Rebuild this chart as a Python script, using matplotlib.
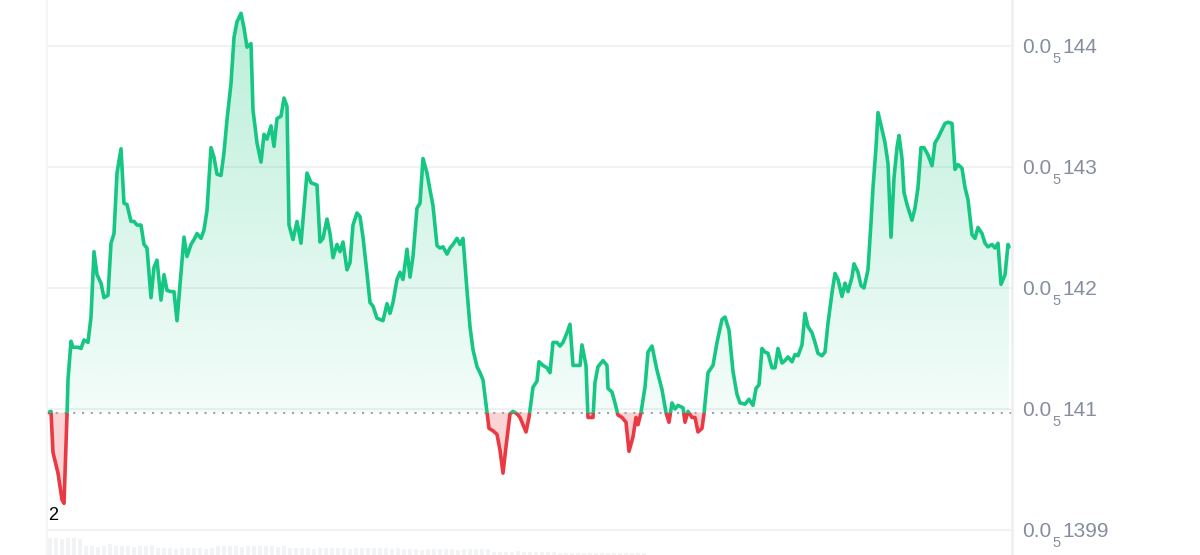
import numpy as np
import matplotlib
matplotlib.use("Agg")
import matplotlib.pyplot as plt
import matplotlib.transforms as mtransforms
from matplotlib.patches import Rectangle, Polygon

plt.rcParams['font.family'] = ['Liberation Sans', 'DejaVu Sans']

# price in units of 1e-8, time in minutes-ish steps since open
times = [1, 4, 6, 11, 15, 17, 20, 21, 24, 26, 31, 34, 37, 41, 44, 47, 50, 54, 57, 61,
         64, 67, 70, 74, 77, 80, 84, 87, 90, 94, 97, 100, 104, 107, 110, 114, 117, 120, 124, 127,
         130, 134, 137, 140, 144, 147, 150, 154, 157, 160, 164, 167, 170, 174, 177, 180, 184, 187, 190, 194,
         197, 200, 204, 206, 210, 214, 217, 220, 224, 227, 230, 234, 237, 240,
         242, 246, 250, 254, 256, 260, 264, 270, 273, 276, 280, 283, 286, 290, 293, 296, 300, 303, 306, 310,
         313, 316, 320, 323, 326, 330, 333, 336, 340, 343, 346, 350, 353, 356, 360, 363, 366, 370, 373, 376,
         380, 383, 386, 390, 393, 396, 400, 403, 406, 410, 413, 416, 420, 423, 426, 430, 433, 436, 440, 442,
         446, 450, 453, 456, 459, 463, 466, 470, 473, 476, 479, 482,
         486, 490, 492, 496, 500, 503, 506, 510, 513, 516, 520, 523, 526, 530, 533, 535, 539, 541, 546, 548,
         551, 556, 560, 561, 565, 568, 571, 575, 579, 582, 586, 589, 591, 594, 598, 601, 605, 610, 615, 619,
         622, 625, 628, 631, 636, 638, 641, 645, 648, 651, 655, 657,
         661, 666, 670, 675, 678, 682, 686, 690, 693, 698, 702, 706, 709, 712, 715, 718, 721, 725, 728, 731,
         735, 738, 741, 745, 748, 751, 755, 758, 761, 765, 768, 771, 775, 778, 781, 785, 788, 791, 795, 798,
         801, 805, 807, 811, 814, 817, 821, 824, 826, 829, 831, 835, 838, 841, 844, 847, 850, 852, 855, 857,
         860, 865, 868, 871, 874, 877, 881, 885, 888, 891, 895, 898, 901, 905, 908, 911, 915, 918, 921, 925,
         928, 931, 935, 938, 941, 945, 948, 951, 954, 958, 961, 962]

prices = [140.97, 140.98, 140.64, 140.47, 140.25, 140.22, 140.95, 141.24, 141.56, 141.51,
          141.51, 141.50, 141.57, 141.55, 141.76, 142.30, 142.11, 142.04, 141.92, 141.94,
          142.37, 142.45, 142.95, 143.15, 142.70, 142.69, 142.55, 142.55, 142.52, 142.52,
          142.36, 142.33, 141.92, 142.17, 142.23, 141.90, 142.11, 141.98, 141.97, 141.97,
          141.73, 142.12, 142.42, 142.26, 142.36, 142.40, 142.45, 142.41, 142.48, 142.64,
          143.16, 143.08, 142.94, 142.93, 143.12, 143.39, 143.69, 144.07, 144.20, 144.27,
          144.15, 143.99, 144.02, 143.47, 143.20, 143.04, 143.27, 143.23, 143.34, 143.17,
          143.40, 143.42, 143.57, 143.50,
          142.52, 142.40, 142.55, 142.37, 142.56, 142.95, 142.87, 142.85, 142.38, 142.41,
          142.57, 142.45, 142.25, 142.36, 142.30, 142.38, 142.15, 142.21, 142.52, 142.62,
          142.59, 142.42, 142.12, 141.88, 141.85, 141.75, 141.74, 141.73, 141.87, 141.79,
          141.88, 142.07, 142.13, 142.07, 142.32, 142.09, 142.26, 142.66, 142.70, 143.07,
          142.95, 142.81, 142.68, 142.35, 142.33, 142.34, 142.28, 142.33, 142.36, 142.41,
          142.36, 142.41, 141.98, 141.68, 141.49, 141.35, 141.30, 141.24, 140.97, 140.84,
          140.82, 140.79, 140.66, 140.47, 140.69, 140.96, 140.98, 140.96, 140.93, 140.87,
          140.81, 140.93,
          141.18, 141.23, 141.39, 141.36, 141.34, 141.30, 141.55, 141.55, 141.52, 141.55,
          141.63, 141.70, 141.36, 141.36, 141.36, 141.53, 141.36, 140.93, 140.93, 141.22,
          141.35, 141.40, 141.36, 141.17, 141.14, 141.05, 140.95, 140.93, 140.89, 140.65,
          140.77, 140.93, 140.87, 140.97, 141.18, 141.47, 141.52, 141.32, 141.16, 140.97,
          140.89, 141.05, 141.00, 141.03, 141.01, 140.89, 140.98, 140.93, 140.93, 140.81,
          140.84, 140.96,
          141.30, 141.36, 141.55, 141.74, 141.76, 141.65, 141.31, 141.12, 141.05, 141.04,
          141.08, 141.03, 141.17, 141.20, 141.50, 141.47, 141.46, 141.34, 141.34, 141.50,
          141.38, 141.40, 141.43, 141.39, 141.45, 141.44, 141.53, 141.79, 141.68, 141.63,
          141.55, 141.46, 141.44, 141.47, 141.71, 141.96, 142.12, 142.07, 141.93, 142.04,
          141.97, 142.09, 142.20, 142.13, 142.02, 142.00, 142.15, 142.54, 142.83, 143.16,
          143.45, 143.31, 143.20, 143.03, 142.42, 142.91, 143.16, 143.26, 143.07, 142.79,
          142.69, 142.56, 142.66, 142.83, 143.16, 143.16, 143.10, 143.01, 143.20, 143.24,
          143.31, 143.36, 143.37, 143.36, 142.98, 143.02, 142.99, 142.83, 142.73, 142.44,
          142.41, 142.50, 142.45, 142.37, 142.34, 142.36, 142.33, 142.37, 142.03, 142.11,
          142.36, 142.34]

volumes = [17, 17, 16, 17, 17, 16,
           9, 9, 8, 9,
           11,
           9, 9, 9, 8, 9, 9, 10,
           7, 7, 7, 6, 7, 7, 7, 7, 6, 7,
           9, 9, 9, 9, 8, 9, 9, 9, 9, 9, 8, 9,
           7, 7, 7, 7, 6, 7, 7, 7, 7, 7, 6, 7, 7, 7, 7, 7, 7, 6, 7,
           6, 6, 6, 5, 6, 6, 6, 6, 6, 5, 6, 6, 6, 6, 6,
           3, 3, 3, 3, 4, 3, 3, 3, 3, 3, 3,
           2, 2, 2, 2, 2, 2, 2, 2, 2, 2, 2, 2, 2, 2, 2]

tick_values = [140, 141, 142, 143, 144]
# label = lead + subscript zero count + significant digits
tick_lead = '0.0'
tick_zeros = '5'
tick_digits = ['1399', '141', '142', '143', '144']
first_marker = '2'

green = '#16c784'
red = '#ea3943'
label_color = '#858d9e'

t = np.array(times, dtype=float)
p = np.array(prices)
base = p[0]
x_max = 965
y_lo, y_hi = 139.9585, 144.38

fig = plt.figure(figsize=(12, 5.55), dpi=100)
ax = fig.add_axes([47 / 1200, 20 / 555, 965 / 1200, 535 / 555])
ax.set_xlim(0, x_max)
ax.set_ylim(y_lo, y_hi)
ax.axis('off')

# gridlines and frame lines
for v in tick_values:
    ax.axhline(v, color='#f0f1f3', lw=1.5, zorder=0)
fig.add_artist(plt.Line2D([47 / 1200, 47 / 1200], [0, 1], color='#f3f4f6', lw=1.2))
fig.add_artist(plt.Line2D([1012 / 1200, 1012 / 1200], [0, 1], color='#eceef1', lw=1.8))

# green gradient area above the open price
poly = Polygon(np.column_stack([np.r_[t[0], t, t[-1]], np.r_[base, p, base]]),
               closed=True, facecolor='none', edgecolor='none')
ax.add_patch(poly)
n = 256
alphas = np.linspace(0.05, 0.30, n)[:, None]
grad = np.zeros((n, 1, 4))
grad[..., 0] = 22 / 255
grad[..., 1] = 199 / 255
grad[..., 2] = 132 / 255
grad[..., 3] = alphas
img = ax.imshow(grad, extent=[0, x_max, base, y_hi], origin='lower', aspect='auto',
                interpolation='bilinear', zorder=1)
img.set_clip_path(poly)

# red area below the open price
ax.fill_between(t, p, base, where=p < base, interpolate=True, color=red, alpha=0.22, lw=0, zorder=1)

# price line, coloured by side of the open price
up_line, = ax.plot(t, p, color=green, lw=2.6, solid_capstyle='round', solid_joinstyle='round', zorder=3)
up_line.set_clip_path(Rectangle((0, base), x_max, y_hi - base, transform=ax.transData))
dn_line, = ax.plot(t, p, color=red, lw=2.6, solid_capstyle='round', solid_joinstyle='round', zorder=3)
dn_line.set_clip_path(Rectangle((0, y_lo), x_max, base - y_lo, transform=ax.transData))

ax.axhline(base, color='#9ea3ad', lw=1.5, ls=(0, (1, 3.2)), zorder=2)

# marker label under the low
i_low = int(np.argmin(p))
ax.annotate(first_marker, xy=(t[i_low], p[i_low]), xytext=(-16, -17), textcoords='offset pixels',
            ha='left', va='baseline', fontsize=13, color='black')

# right axis labels, drawn in three pieces so the subscript sits low like the original
blend = mtransforms.blended_transform_factory(ax.transAxes, ax.transData)
for v, digits in zip(tick_values, tick_digits):
    for txt, dx, dy, size in [(tick_lead, 10, -7.5, 15), (tick_zeros, 40.5, -17.5, 10.5),
                              (digits, 50.5, -7.5, 15)]:
        tr = mtransforms.offset_copy(blend, fig=fig, x=dx, y=dy, units='dots')
        ax.text(1.0, v, txt, transform=tr, ha='left', va='baseline', fontsize=size,
                color=label_color, clip_on=False)

# volume strip
vax = fig.add_axes([47 / 1200, 0, 965 / 1200, 18 / 555])
vax.set_xlim(0, x_max)
vax.set_ylim(0, 17.5)
vax.axis('off')
vx = np.arange(len(volumes)) * 6 + 3
vax.bar(vx, volumes, width=4, color='#f2f3f5', linewidth=0)

fig.savefig('out.png', dpi=100, facecolor='white')
